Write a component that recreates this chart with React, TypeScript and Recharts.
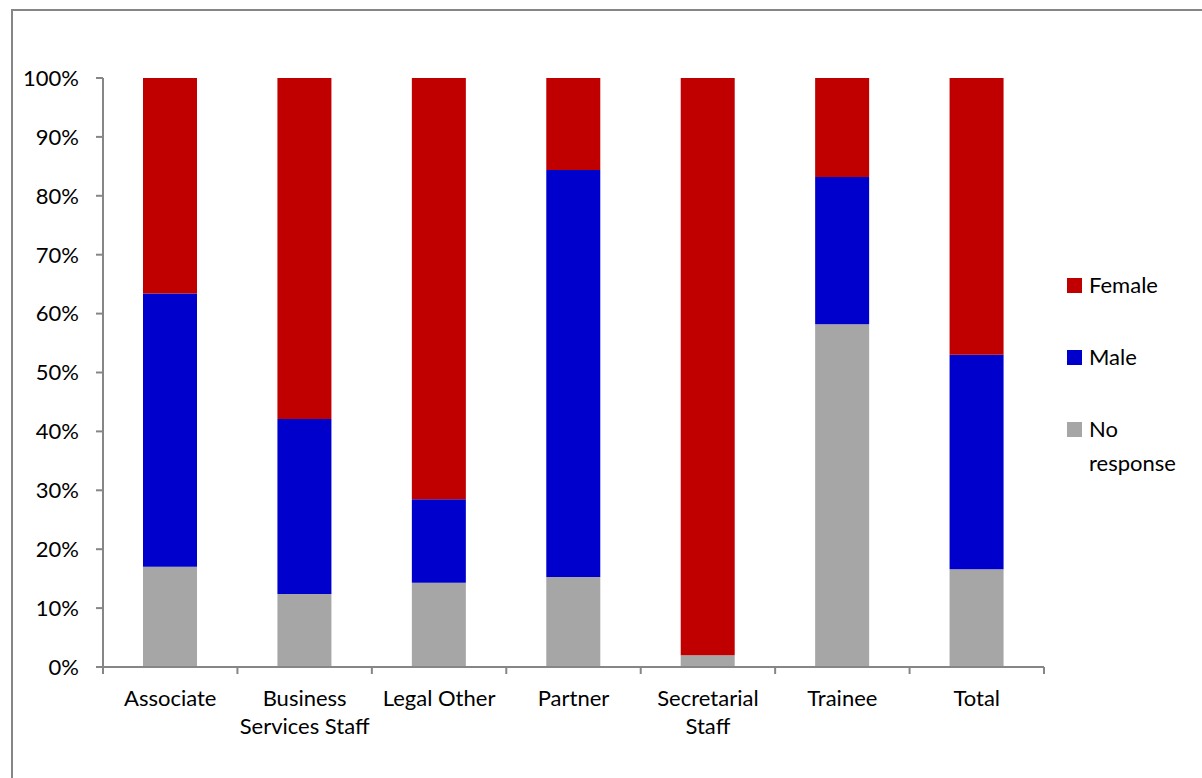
import { BarChart, Bar, XAxis, YAxis, Legend } from 'recharts'

const categories = ['Associate', 'Business Services Staff', 'Legal Other', 'Partner', 'Secretarial Staff', 'Trainee', 'Total']
const noResponse = [17.0, 12.4, 14.3, 15.3, 2.0, 58.2, 16.6]
const male = [46.4, 29.7, 14.2, 69.1, 0, 25.0, 36.4]
const female = [36.6, 57.9, 71.5, 15.6, 98.0, 16.8, 47.0]
const yTicks = [0, 10, 20, 30, 40, 50, 60, 70, 80, 90, 100]

// how each category label wraps under the axis
const labelLines: Record<string, string[]> = {
  'Business Services Staff': ['Business', 'Services Staff'],
  'Secretarial Staff': ['Secretarial', 'Staff'],
}

const data = categories.map((name, i) => ({
  name,
  noResponse: noResponse[i],
  male: male[i],
  female: female[i],
}))

const AXIS = '#868686'
const FONT = 'Lato, "Noto Sans", sans-serif'

function CategoryTick(props: any) {
  const { x, y, payload, index, visibleTicksCount } = props
  const half = payload.offset ?? 67
  const lines = labelLines[payload.value] ?? [payload.value]
  const last = index === (visibleTicksCount ?? categories.length) - 1
  return (
    <g>
      <line x1={x - half} x2={x - half} y1={y} y2={y + 7} stroke={AXIS} strokeWidth={2} />
      {last && <line x1={x + half} x2={x + half} y1={y} y2={y + 7} stroke={AXIS} strokeWidth={2} />}
      <text x={x} y={y} textAnchor="middle" fill="#000" fontSize={22} fontFamily={FONT}>
        {lines.map((l, k) => (
          <tspan key={k} x={x} dy={k === 0 ? 39 : 28}>{l}</tspan>
        ))}
      </text>
    </g>
  )
}

function LegendList({ payload }: any) {
  const items = payload ?? []
  return (
    <div style={{ fontFamily: FONT, fontSize: 22, color: '#000', lineHeight: '34px' }}>
      {items.map((it: any, i: number) => (
        <div key={i} style={{ display: 'flex', alignItems: 'flex-start', marginBottom: 38 }}>
          <span style={{ width: 15, height: 15, background: it.color, marginTop: 10, marginRight: 7, flexShrink: 0 }} />
          <span>{it.value === 'No response' ? <>No<br />response</> : it.value}</span>
        </div>
      ))}
    </div>
  )
}

export default function App() {
  return (
    <div
      style={{
        position: 'absolute',
        left: 11,
        top: 9,
        width: 1191,
        height: 769,
        borderLeft: `2px solid ${AXIS}`,
        borderTop: `2px solid ${AXIS}`,
        boxSizing: 'border-box',
        background: '#fff',
      }}
    >
      <BarChart
        width={1185}
        height={760}
        data={data}
        margin={{ top: 67, right: 154, left: 0, bottom: 44 }}
        barSize={54}
      >
        <XAxis
          dataKey="name"
          height={60}
          stroke={AXIS}
          strokeWidth={2}
          tickLine={false}
          tickSize={0}
          tickMargin={0}
          interval={0}
          tick={<CategoryTick />}
        />
        <YAxis
          width={90}
          domain={[0, 100]}
          ticks={yTicks}
          tickFormatter={(v) => `${v}%`}
          stroke={AXIS}
          strokeWidth={2}
          tickSize={7}
          tickMargin={17}
          tick={{ fill: '#000', fontSize: 22, fontFamily: FONT }}
          allowDataOverflow
        />
        <Legend
          layout="vertical"
          align="center"
          verticalAlign="middle"
          wrapperStyle={{ left: 1054, top: 257, width: 140 }}
          content={<LegendList />}
        />
        <Bar dataKey="noResponse" name="No response" stackId="a" fill="#A6A6A6" isAnimationActive={false} />
        <Bar dataKey="male" name="Male" stackId="a" fill="#0000CC" isAnimationActive={false} />
        <Bar dataKey="female" name="Female" stackId="a" fill="#C00000" isAnimationActive={false} />
      </BarChart>
    </div>
  )
}
